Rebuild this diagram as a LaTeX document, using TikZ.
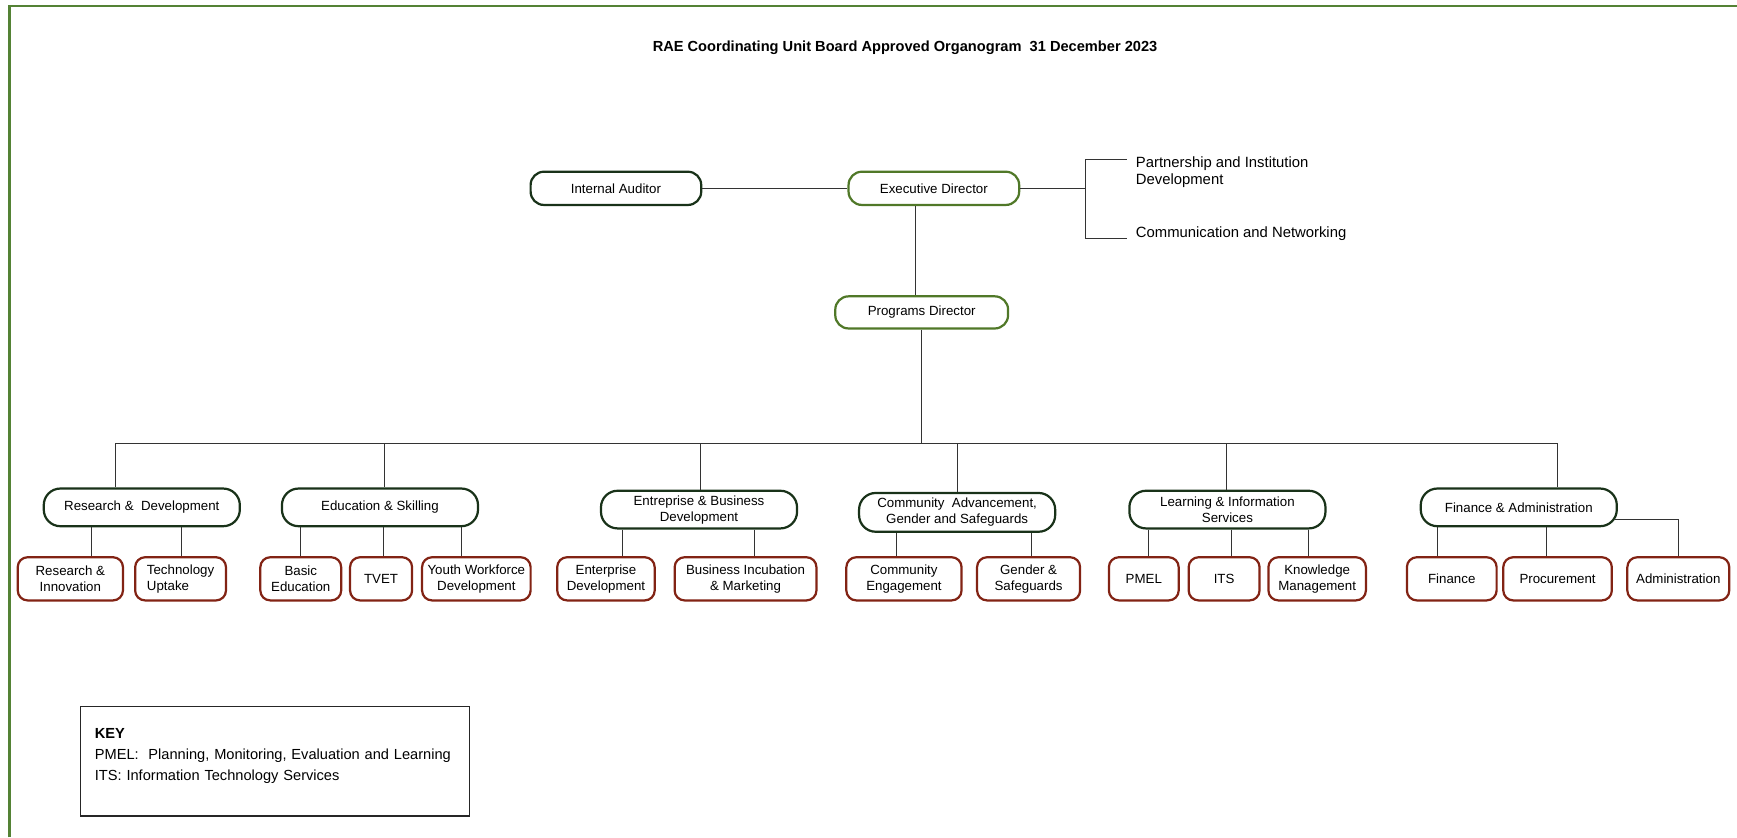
\documentclass[tikz,border=0pt]{standalone}
\usepackage{fontspec}
\setmainfont{Liberation Sans}
\usetikzlibrary{positioning}
\definecolor{framecolor}{RGB}{84,130,53}
\definecolor{unitcolor}{RGB}{25,50,25}
\definecolor{headcolor}{RGB}{80,120,40}
\definecolor{subcolor}{RGB}{130,35,20}
\newcommand{\boxfont}{\fontsize{6}{7.2}\selectfont}
\newcommand{\sidefont}{\fontsize{6.7}{7.5}\selectfont}
\tikzset{
	head/.style={
		rectangle,
		rounded corners=6pt,
		line width=1pt,
		draw=headcolor,
		fill=white,
		minimum width=77pt,
		minimum height=15pt,
		font=\boxfont,
		align=center
	},
	unit/.style={
		rectangle,
		rounded corners=7.5pt,
		line width=1pt,
		draw=unitcolor,
		fill=white,
		minimum width=88.5pt,
		minimum height=17pt,
		inner sep=1pt,
		font=\boxfont,
		align=center
	},
	sub/.style={
		rectangle,
		rounded corners=4.5pt,
		line width=1pt,
		draw=subcolor,
		fill=white,
		minimum height=19.5pt,
		inner sep=1pt,
		font=\boxfont,
		align=center
	},
	side/.style={
		anchor=west,
		inner sep=0pt,
		font=\sidefont,
		align=left
	},
	link/.style={
		draw=black!80,
		line width=0.45pt
	},
	frame/.style={
		draw=framecolor,
		line width=1pt
	},
	keybox/.style={
		rectangle,
		draw=black!85,
		line width=0.6pt,
		anchor=north west,
		text width=162.5pt,
		inner xsep=6.5pt,
		minimum height=49.5pt,
		text depth=25pt,
		align=left,
		font=\fontsize{6.6}{9.5}\selectfont
	},
}

\begin{document}
\begin{tikzpicture}[x=0.5pt,y=-0.5pt]
\useasboundingbox (0,0) rectangle (1568,756);
\draw[frame] (8.5,756) |- (1568,5.5);

\node[font=\bfseries\fontsize{6.6}{8}\selectfont] (title) at (817,43) {RAE Coordinating Unit Board Approved Organogram\ \ 31 December 2023};

% directors
\node[head] (ed) at (843,170) {Executive Director};
\node[unit,minimum width=77pt,minimum height=15pt,rounded corners=6pt] (ia) at (556,170) {Internal Auditor};
\node[head,minimum width=78pt,minimum height=14.5pt] (pd) at (832,282) {Programs Director};
\node[side] (pid) at (1025,155.5) {Partnership and Institution\\Development};
\node[side] (cn) at (1025,211) {Communication and Networking};

% units
\node[unit] (rd) at (128,458) {Research \&\ \ Development};
\node[unit] (es) at (343,458) {Education \& Skilling};
\node[unit] (ebd) at (631,460) {Entreprise \& Business\\Development};
\node[unit,minimum height=17.5pt] (cag) at (864,462.5) {Community\ \ Advancement,\\Gender and Safeguards};
\node[unit] (lis) at (1108,460) {Learning \& Information\\Services};
\node[unit] (fa) at (1371,458) {Finance \& Administration};

% sub units
\node[sub,minimum width=47.5pt] (ri) at (63.5,522.5) {Research \&\\Innovation};
\node[sub,minimum width=41pt,align=left] (tu) at (163,522.5) {Technology\\Uptake};
\node[sub,minimum width=36.5pt] (be) at (271.5,522.5) {Basic\\Education};
\node[sub,minimum width=28pt] (tvet) at (344,522.5) {TVET};
\node[sub,minimum width=49pt] (ywd) at (430,522.5) {Youth Workforce\\Development};
\node[sub,minimum width=44pt] (entd) at (547,522.5) {Enterprise\\Development};
\node[sub,minimum width=64pt] (bim) at (673,522.5) {Business Incubation\\\& Marketing};
\node[sub,minimum width=52pt] (ce) at (816,522.5) {Community\\Engagement};
\node[sub,minimum width=46.5pt] (gs) at (928.5,522.5) {Gender \&\\Safeguards};
\node[sub,minimum width=31.5pt] (pmel) at (1032.5,522.5) {PMEL};
\node[sub,minimum width=32pt] (its) at (1105,522.5) {ITS};
\node[sub,minimum width=44pt] (km) at (1189,522.5) {Knowledge\\Management};
\node[sub,minimum width=40.5pt] (fin) at (1310.5,522.5) {Finance};
\node[sub,minimum width=49pt] (proc) at (1406,522.5) {Procurement};
\node[sub,minimum width=46pt] (adm) at (1515,522.5) {Administration};

% key
\node[keybox] (key) at (72,637) {\textbf{KEY}\\PMEL:\ \ Planning, Monitoring, Evaluation and Learning\\ITS: Information Technology Services};

% top connectors
\coordinate (brk) at (980,170);
\coordinate (pidt) at (1017,144);
\coordinate (cnt) at (1017,215);
\draw[link] (ia) -- (ed);
\draw[link] (ed) -- (brk);
\draw[link] (pidt) -| (brk) |- (cnt);
\draw[link] (826,0 |- ed.south) -- (826,0 |- pd.north);

% bus
\coordinate (busl) at (104,400);
\coordinate (busr) at (1406,400);
\draw[link] (pd.south) -- (pd.south |- busl);
\draw[link] (busl) -- (busr);
\draw[link] (busl) -- (busl |- rd.north);
\draw[link] (347,400) -- (347,0 |- es.north);
\draw[link] (632,400) -- (632,0 |- ebd.north);
\draw[link] (864,400) -- (cag.north);
\draw[link] (1107,400) -- (1107,0 |- lis.north);
\draw[link] (busr) -- (busr |- fa.north);

% sub unit connectors
\draw[link] (83,0 |- rd.south) -- (83,0 |- ri.north);
\draw[link] (164,0 |- rd.south) -- (164,0 |- tu.north);
\draw[link] (271,0 |- es.south) -- (271,0 |- be.north);
\draw[link] (346,0 |- es.south) -- (346,0 |- tvet.north);
\draw[link] (417,0 |- es.south) -- (417,0 |- ywd.north);
\draw[link] (562,0 |- ebd.south) -- (562,0 |- entd.north);
\draw[link] (681,0 |- ebd.south) -- (681,0 |- bim.north);
\draw[link] (809,0 |- cag.south) -- (809,0 |- ce.north);
\draw[link] (931,0 |- cag.south) -- (931,0 |- gs.north);
\draw[link] (1037,0 |- lis.south) -- (1037,0 |- pmel.north);
\draw[link] (1112,0 |- lis.south) -- (1112,0 |- its.north);
\draw[link] (1181,0 |- lis.south) -- (1181,0 |- km.north);
\draw[link] (1298,0 |- fa.south) -- (1298,0 |- fin.north);
\draw[link] (1396,0 |- fa.south) -- (1396,0 |- proc.north);
\draw[link] ([xshift=-1.5pt,yshift=-5.5pt]fa.east) -| (adm.north);
\end{tikzpicture}
\end{document}
